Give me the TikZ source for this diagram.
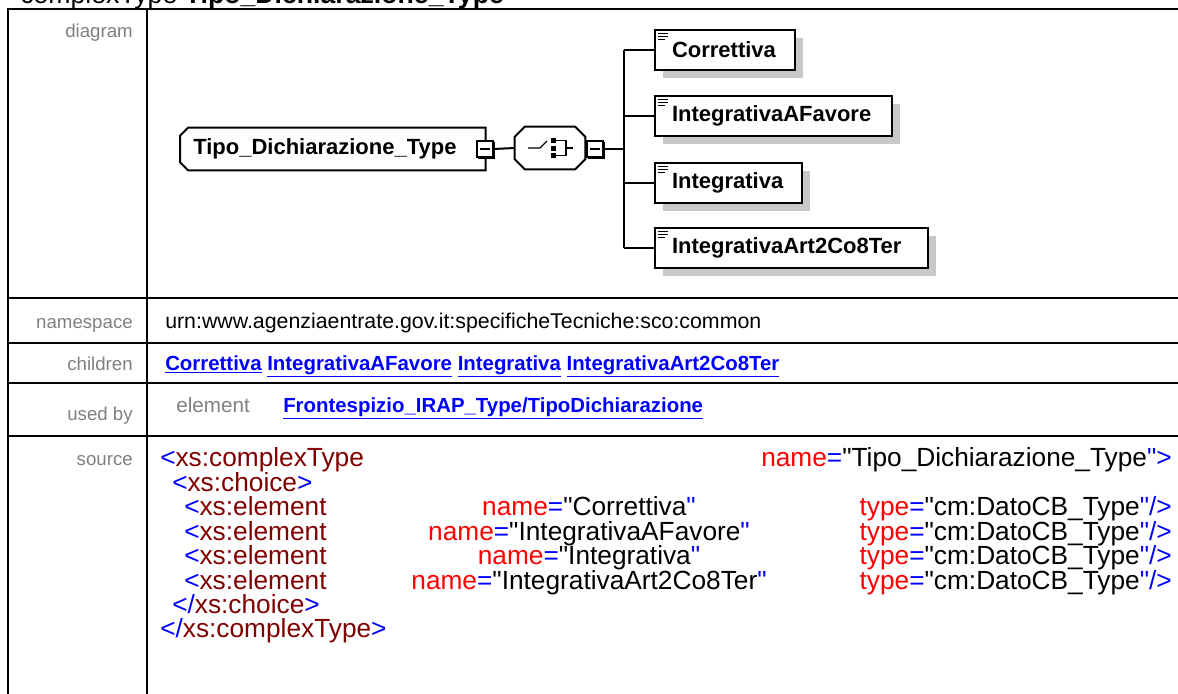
\documentclass[tikz,border=0pt]{standalone}
\usepackage{fontspec}
\setmainfont{Liberation Sans}[Ligatures=TeXOff]
\usetikzlibrary{shadows,backgrounds}
\definecolor{xsblue}{RGB}{0,0,255}
\definecolor{xsred}{RGB}{128,0,0}
\definecolor{xsattr}{RGB}{255,0,0}
\definecolor{lblgray}{RGB}{128,128,128}
\definecolor{shadowgray}{RGB}{200,200,200}
\newcommand{\tagb}[1]{\textcolor{xsblue}{#1}}
\newcommand{\tagr}[1]{\textcolor{xsred}{#1}}
\newcommand{\attr}[1]{\textcolor{xsattr}{#1}}
\begin{document}
\begin{tikzpicture}[x=0.75pt,y=-0.75pt,
    tbl/.style={line width=1.5pt},
    lbl/.style={anchor=base east, inner sep=0pt, text=lblgray, font=\fontsize{14pt}{16pt}\selectfont},
    txt/.style={anchor=base west, inner sep=0pt, font=\fontsize{16pt}{18pt}\selectfont},
    lnk/.style={anchor=base west, inner sep=0pt, text=xsblue, font=\bfseries\fontsize{15.3pt}{17pt}\selectfont},
    src/.style={anchor=base west, inner sep=0pt, font=\fontsize{19.7pt}{22pt}\selectfont},
    srcr/.style={src, anchor=base east},
    srcc/.style={src, anchor=base},
    elbox/.style={draw, line width=1.5pt, fill=white, anchor=west, inner xsep=12.75pt, inner ysep=0pt,
      minimum height=30pt, text width=#1, align=left, font=\bfseries\fontsize{16.5pt}{18pt}\selectfont,
      drop shadow={shadow xshift=6pt, shadow yshift=-6pt, fill=shadowgray, opacity=1}},
    minusbox/.style={draw, line width=1pt, fill=white, minimum size=12pt, inner sep=0pt},
    wire/.style={line width=1.5pt}]
\useasboundingbox (0,0) rectangle (1178,693);

%titolo
\node[anchor=base west, inner sep=0pt, font=\fontsize{20pt}{22pt}\selectfont] (title) at (20,3) {complexType \textbf{Tipo\_Dichiarazione\_Type}};

%tabella
\draw[tbl] (1200,9) -- (8,9) -- (8,720);
\draw[tbl] (147,9) -- (147,720);
\foreach \yy in {298,343,383,436}
  \draw[tbl] (8,\yy) -- (1200,\yy);

%etichette
\node[lbl] (ldiag) at (133,37) {diagram};
\node[lbl] (lns) at (133,328) {namespace};
\node[lbl] (lchild) at (133,370) {children};
\node[lbl] (lused) at (133,420) {used by};
\node[lbl] (lsrc) at (133,465) {source};

%diagramma: tipo complesso
\node[anchor=west, inner xsep=9.75pt, inner ysep=0pt, minimum height=31.5pt, text width=209.25pt,
  font=\bfseries\fontsize{16.5pt}{18pt}\selectfont] (root) at (180,149) {Tipo\_Dichiarazione\_Type};
\begin{scope}[on background layer]
\fill[shadowgray, shift={(6pt,-6pt)}] ([xshift=6pt]root.north west) -- (root.north east) -- (root.south east)
  -- ([xshift=6pt]root.south west) -- ([yshift=6pt]root.south west) -- ([yshift=-6pt]root.north west) -- cycle;
\draw[wire, fill=white] ([xshift=6pt]root.north west) -- (root.north east) -- (root.south east)
  -- ([xshift=6pt]root.south west) -- ([yshift=6pt]root.south west) -- ([yshift=-6pt]root.north west) -- cycle;
\end{scope}

%diagramma: choice
\node[minimum width=52.5pt, minimum height=31.5pt, inner sep=0pt] (choice) at (550,148) {};
\fill[shadowgray, shift={(6pt,-6pt)}] ([xshift=7.5pt]choice.north west) -- ([xshift=-7.5pt]choice.north east)
  -- ([yshift=-7.5pt]choice.north east) -- ([yshift=7.5pt]choice.south east) -- ([xshift=-7.5pt]choice.south east)
  -- ([xshift=7.5pt]choice.south west) -- ([yshift=7.5pt]choice.south west) -- ([yshift=-7.5pt]choice.north west) -- cycle;
\draw[wire, fill=white] ([xshift=7.5pt]choice.north west) -- ([xshift=-7.5pt]choice.north east)
  -- ([yshift=-7.5pt]choice.north east) -- ([yshift=7.5pt]choice.south east) -- ([xshift=-7.5pt]choice.south east)
  -- ([xshift=7.5pt]choice.south west) -- ([yshift=7.5pt]choice.south west) -- ([yshift=-7.5pt]choice.north west) -- cycle;
% simbolo choice
\draw[line width=1pt] (528,148) -- (540,148) -- (547,141);
\fill (551,138) rectangle (556,143);
\fill (551,145.5) rectangle (556,150.5);
\fill (551,153) rectangle (556,158);
\draw[line width=1pt] (556,140.5) -- (566,140.5) -- (566,155.5) -- (556,155.5);
\draw[line width=1pt] (566,148) -- (573,148);

%segni meno
\node[minusbox] (m1) at (485,149) {};
\node[minusbox] (m2) at (595,149) {};
\foreach \mb in {m1,m2} {
  \draw[line width=1pt] ([xshift=-3.5pt]\mb.center) -- ([xshift=3.5pt]\mb.center);
  \draw[line width=2pt] ([yshift=-1pt]\mb.north east) -- (\mb.south east) -- ([xshift=1pt]\mb.south west);
}

%elementi figli
\node[elbox=79.5pt] (c1) at (654,50) {Correttiva};
\node[elbox=152.25pt] (c2) at (654,116) {IntegrativaAFavore};
\node[elbox=84.75pt] (c3) at (654,183) {Integrativa};
\node[elbox=179.25pt] (c4) at (654,248) {IntegrativaArt2Co8Ter};
\foreach \kid in {c1,c2,c3,c4} {
  \draw[line width=1pt] ([xshift=3pt,yshift=-3.5pt]\kid.north west) -- ++(7.5pt,0);
  \draw[line width=1pt] ([xshift=3pt,yshift=-5.75pt]\kid.north west) -- ++(7.5pt,0);
  \draw[line width=1pt] ([xshift=3pt,yshift=-8pt]\kid.north west) -- ++(5.5pt,0);
}

%connettori
\coordinate (fork) at (624,149);
\draw[wire] (m1.east) -- (choice.west);
\draw[wire] (m2.east) -- (fork);
\draw[wire] (c1.west -| fork) -- (c4.west -| fork);
\foreach \kid in {c1,c2,c3,c4}
  \draw[wire] (\kid.west -| fork) -- (\kid.west);

%namespace, children, used by
\node[txt] (ns) at (165,328) {urn:www.agenziaentrate.gov.it:specificheTecniche:sco:common};
\node[lnk] (kids) at (165,370) {\underline{Correttiva} \underline{IntegrativaAFavore} \underline{Integrativa} \underline{IntegrativaArt2Co8Ter}};
\node[lbl, anchor=base west, font=\fontsize{15.5pt}{17pt}\selectfont] (uel) at (176,412) {element};
\node[lnk] (uref) at (283,412) {\underline{Frontespizio\_IRAP\_Type/TipoDichiarazione}};

%sorgente
\node[src] (s1) at (160,466) {\tagb{<}\tagr{xs:complexType}};
\node[srcr] (s1n) at (1172,466) {\attr{name}\tagb{=}"Tipo\_Dichiarazione\_Type\tagb{">}};
\node[src] (s2) at (172,491) {\tagb{<}\tagr{xs:choice}\tagb{>}};
\foreach \nm [count=\i] in {Correttiva,IntegrativaAFavore,Integrativa,IntegrativaArt2Co8Ter} {
  \node[src] (e\i) at (184,491+24.5*\i) {\tagb{<}\tagr{xs:element}};
  \node[srcc] (n\i) at (589,491+24.5*\i) {\attr{name}\tagb{=}"\nm\tagb{"}};
  \node[srcr] (t\i) at (1172,491+24.5*\i) {\attr{type}\tagb{=}"cm:DatoCB\_Type\tagb{"/>}};
}
\node[src] (s7) at (172,613) {\tagb{</}\tagr{xs:choice}\tagb{>}};
\node[src] (s8) at (160,637) {\tagb{</}\tagr{xs:complexType}\tagb{>}};
\end{tikzpicture}
\end{document}
